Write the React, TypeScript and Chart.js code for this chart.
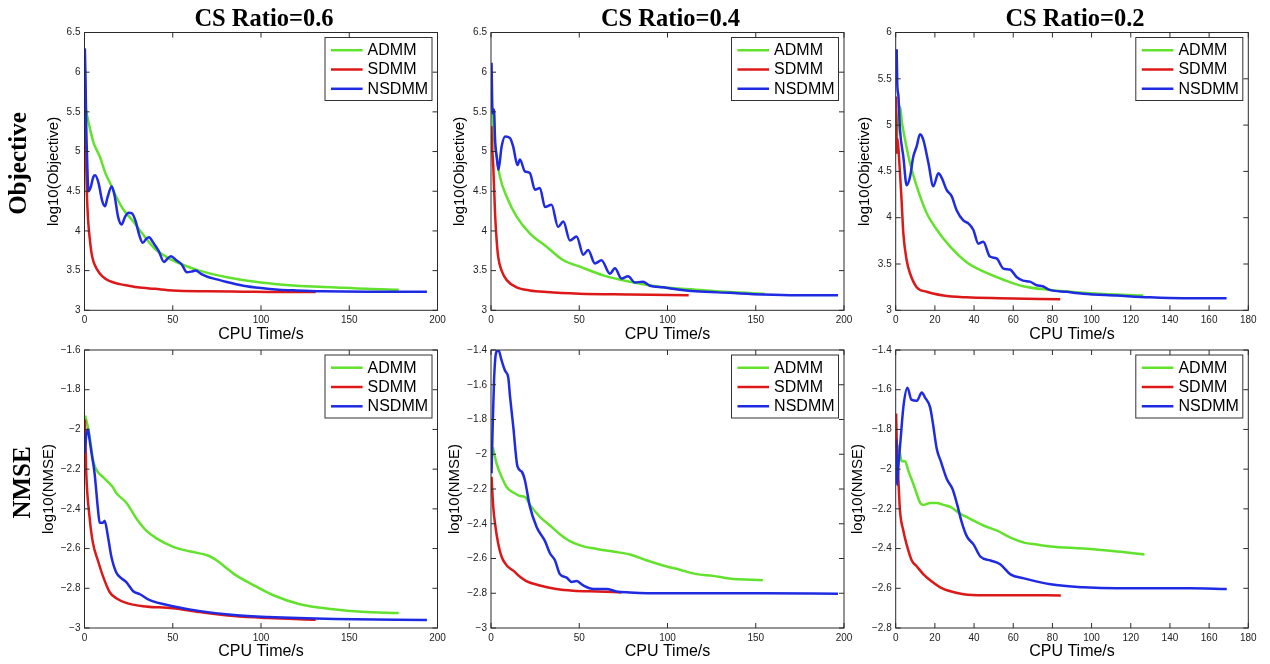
import { useEffect, useRef } from 'react';
import { Chart, registerables } from 'chart.js';

Chart.register(...registerables);

const ratios = ['0.6', '0.4', '0.2'];
const methods = ['ADMM', 'SDMM', 'NSDMM'];
const methodColors = ['#62e22c', '#dc1818', '#1f2be3'];
const rowNames = ['Objective', 'NMSE'];
const yTitles = ['log10(Objective)', 'log10(NMSE)'];
const xTitle = 'CPU Time/s';

// axis ranges [min, max, step]
const xRanges = [[0, 200, 50], [0, 200, 50], [0, 180, 20]];
const yRanges = [
  [[3, 6.5, 0.5], [3, 6.5, 0.5], [3, 6, 0.5]],
  [[-3, -1.6, 0.2], [-3, -1.4, 0.2], [-2.8, -1.4, 0.2]],
];

// [CPU time (s), log10 value]
const objAdmm06 = [[0.3, 5.6], [1.5, 5.45], [3, 5.3], [5, 5.12], [8.6, 4.94], [12, 4.72], [15, 4.58], [18, 4.43], [22, 4.27], [27.6, 4.12], [33, 3.96], [40, 3.77], [46.6, 3.67], [55, 3.58], [65, 3.5], [80, 3.42], [100, 3.35], [120, 3.31], [140, 3.29], [160, 3.27], [178, 3.26]];
const objSdmm06 = [[0.2, 5.7], [0.8, 5.0], [1.3, 4.5], [2, 4.15], [3, 3.9], [4, 3.72], [5, 3.62], [7, 3.52], [10, 3.43], [14, 3.37], [20, 3.33], [25, 3.31], [30, 3.29], [40, 3.27], [50, 3.25], [70, 3.24], [90, 3.235], [110, 3.23], [131, 3.23]];
const objNsdmm06 = [[0.2, 6.3], [0.6, 5.9], [1.0, 5.3], [1.5, 4.9], [2.2, 4.5], [3.5, 4.55], [5, 4.68], [6, 4.7], [8, 4.6], [10, 4.38], [11.6, 4.31], [13, 4.42], [15.4, 4.56], [17, 4.45], [19, 4.18], [21, 4.08], [23, 4.18], [25, 4.23], [27, 4.22], [29, 4.12], [31, 3.95], [33, 3.85], [35, 3.9], [36.5, 3.92], [39, 3.85], [42, 3.75], [45, 3.61], [47, 3.65], [49, 3.68], [52, 3.63], [55, 3.58], [58, 3.48], [61, 3.49], [63, 3.5], [66, 3.46], [70, 3.42], [75, 3.39], [80, 3.36], [90, 3.31], [100, 3.28], [110, 3.26], [120, 3.25], [135, 3.24], [160, 3.235], [194, 3.235]];

const objAdmm04 = [[0.3, 5.65], [1.3, 5.27], [2.3, 5.06], [3.2, 4.94], [5.1, 4.68], [8.9, 4.43], [14.5, 4.18], [22, 3.97], [31.5, 3.8], [41, 3.63], [50.4, 3.55], [63.6, 3.44], [78.7, 3.36], [97.5, 3.29], [116, 3.26], [135, 3.23], [155, 3.21]];
const objSdmm04 = [[0.2, 5.32], [0.8, 5.0], [1.3, 4.81], [2.3, 4.22], [3.2, 3.88], [4.1, 3.67], [6, 3.5], [8.9, 3.38], [14.5, 3.29], [22, 3.25], [31.5, 3.23], [50, 3.21], [78.7, 3.2], [112, 3.19]];
const objNsdmm04 = [[0.3, 6.12], [0.9, 5.48], [1.7, 5.53], [2.3, 5.15], [3.2, 4.94], [4.2, 4.77], [6, 5.06], [8, 5.19], [10.8, 5.17], [12.6, 5.06], [15, 4.83], [16.4, 4.9], [19.2, 4.75], [22, 4.73], [24.9, 4.52], [27.7, 4.54], [30.6, 4.3], [34.3, 4.33], [38, 4.05], [41, 4.12], [44.7, 3.88], [48.5, 3.93], [52.3, 3.7], [55, 3.76], [58.9, 3.59], [62.6, 3.63], [67.4, 3.46], [70.2, 3.53], [74, 3.4], [77.7, 3.43], [81.5, 3.35], [86, 3.36], [90, 3.31], [97.5, 3.29], [107, 3.26], [116, 3.24], [135, 3.22], [154, 3.2], [173, 3.19], [196.6, 3.19]];

const objAdmm02 = [[0.5, 4.8], [1.2, 5.05], [2.2, 5.2], [3.2, 5.03], [4.8, 4.84], [7.3, 4.59], [10.7, 4.34], [15.8, 4.05], [21, 3.87], [27.7, 3.69], [36.2, 3.52], [44.7, 3.42], [55, 3.33], [65, 3.26], [78.7, 3.22], [95.7, 3.19], [112.8, 3.17], [126.4, 3.16]];
const objSdmm02 = [[0.2, 5.31], [0.5, 4.7], [1, 4.85], [1.6, 4.68], [2.2, 4.48], [3, 4.19], [3.9, 3.83], [5.6, 3.54], [7.3, 3.4], [10.7, 3.25], [15.8, 3.2], [24.3, 3.16], [36, 3.14], [53, 3.13], [84, 3.12]];
const objNsdmm02 = [[0.5, 5.82], [0.8, 5.45], [1.4, 5.31], [2.2, 4.95], [3.9, 4.66], [5.6, 4.35], [7.3, 4.44], [9, 4.66], [10.7, 4.77], [12.4, 4.9], [14.1, 4.84], [16.7, 4.59], [19.2, 4.34], [21.8, 4.48], [23.5, 4.43], [26, 4.3], [28.6, 4.23], [31.1, 4.08], [34.5, 3.97], [37, 3.94], [39.6, 3.87], [42.2, 3.72], [44.7, 3.74], [48.1, 3.58], [51.5, 3.56], [55, 3.45], [58.3, 3.44], [61.7, 3.36], [65, 3.32], [68.5, 3.31], [72, 3.27], [75, 3.26], [78.7, 3.22], [87.2, 3.2], [95.7, 3.18], [112.8, 3.16], [129.8, 3.14], [146.8, 3.13], [168.9, 3.13]];

const nmseAdmm06 = [[0.3, -1.93], [2, -1.99], [3.5, -2.07], [4.75, -2.15], [6.5, -2.2], [10.5, -2.24], [14, -2.27], [16, -2.29], [18, -2.32], [23.8, -2.37], [29.5, -2.45], [35, -2.51], [41, -2.55], [50, -2.59], [60, -2.615], [70, -2.635], [75, -2.66], [80, -2.695], [85, -2.73], [96, -2.785], [107, -2.835], [122, -2.88], [141, -2.905], [157, -2.918], [178, -2.925]];
const nmseSdmm06 = [[0.2, -1.95], [1, -2.22], [2.85, -2.44], [4.75, -2.57], [7.6, -2.66], [10.5, -2.74], [14.3, -2.82], [18, -2.85], [24, -2.875], [33, -2.89], [50, -2.9], [65.6, -2.92], [84.6, -2.94], [104, -2.95], [131, -2.958]];
const nmseNsdmm06 = [[0.2, -2.12], [1, -2.03], [2, -2.0], [2.85, -2.05], [4, -2.12], [5.7, -2.22], [7.6, -2.4], [8.6, -2.47], [10.5, -2.47], [11.4, -2.46], [13.3, -2.54], [15.2, -2.64], [18, -2.72], [21, -2.75], [23.8, -2.77], [27.6, -2.815], [31.4, -2.83], [37, -2.86], [50, -2.89], [65.6, -2.915], [84.6, -2.935], [104, -2.945], [142, -2.955], [194, -2.96]];

const nmseAdmm04 = [[1, -1.96], [3.2, -2.055], [6, -2.13], [8.9, -2.19], [12.6, -2.22], [16.4, -2.24], [19.2, -2.245], [22, -2.29], [27.7, -2.36], [33.4, -2.41], [39, -2.46], [44.7, -2.5], [52.3, -2.53], [60, -2.545], [69, -2.56], [78.7, -2.577], [88, -2.61], [97.5, -2.64], [107, -2.665], [116.4, -2.69], [125.8, -2.7], [135, -2.715], [154, -2.725]];
const nmseSdmm04 = [[0.3, -2.13], [1.3, -2.305], [2.3, -2.4], [4.1, -2.515], [6, -2.59], [8.9, -2.64], [12.6, -2.67], [16.4, -2.705], [20, -2.73], [27.7, -2.755], [37, -2.775], [46.6, -2.785], [60, -2.79], [74, -2.795]];
const nmseNsdmm04 = [[0.3, -2.11], [0.9, -1.86], [1.7, -1.58], [2.8, -1.42], [4.2, -1.4], [6, -1.46], [8, -1.52], [9.8, -1.56], [10.8, -1.67], [12.6, -1.84], [15, -2.07], [17.4, -2.1], [19.2, -2.15], [22, -2.3], [25.9, -2.42], [30.6, -2.5], [33.4, -2.57], [36.2, -2.61], [39, -2.69], [42.8, -2.71], [45.7, -2.735], [48.5, -2.73], [52.3, -2.755], [58, -2.775], [65.5, -2.775], [71, -2.79], [78.7, -2.795], [97.5, -2.8], [154, -2.8], [196.6, -2.803]];

const nmseAdmm02 = [[0.5, -1.87], [2.2, -1.92], [3, -1.96], [4.8, -1.96], [6.5, -2.01], [9, -2.075], [10.8, -2.125], [12.5, -2.17], [14.2, -2.18], [17.6, -2.17], [21, -2.17], [24.4, -2.18], [27.9, -2.19], [33, -2.225], [38, -2.25], [45, -2.285], [51.8, -2.31], [58.6, -2.345], [65.5, -2.37], [72, -2.38], [79, -2.39], [96, -2.4], [113, -2.415], [127, -2.43]];
const nmseSdmm02 = [[0.2, -1.72], [0.6, -1.89], [1.4, -2.06], [2.2, -2.21], [3.9, -2.31], [5.6, -2.38], [8.2, -2.46], [10.8, -2.49], [14.2, -2.53], [17.6, -2.56], [22.7, -2.595], [27.9, -2.615], [34.7, -2.63], [45, -2.635], [62, -2.635], [84.3, -2.636]];
const nmseNsdmm02 = [[0.2, -1.85], [0.8, -2.08], [1.5, -1.97], [2.5, -1.85], [4, -1.68], [6, -1.59], [8, -1.65], [10.8, -1.656], [13.3, -1.614], [15, -1.64], [17.6, -1.69], [19, -1.77], [21, -1.9], [23, -1.96], [26.1, -2.05], [29, -2.1], [31.3, -2.175], [33.5, -2.26], [36.4, -2.34], [39.8, -2.38], [43.2, -2.44], [48.4, -2.46], [53.5, -2.48], [58.6, -2.53], [65.5, -2.55], [79, -2.58], [96, -2.595], [113, -2.6], [150, -2.6], [169, -2.603]];

const panelSeries = [
  [[objAdmm06, objSdmm06, objNsdmm06], [objAdmm04, objSdmm04, objNsdmm04], [objAdmm02, objSdmm02, objNsdmm02]],
  [[nmseAdmm06, nmseSdmm06, nmseNsdmm06], [nmseAdmm04, nmseSdmm04, nmseNsdmm04], [nmseAdmm02, nmseSdmm02, nmseNsdmm02]],
];

// page layout (px)
const colX0 = [0, 435, 840];
const colW = [460, 435, 430];
const plotL = [84.5, 491, 895.7];
const plotR = [437.5, 844, 1248.3];
const rowY0 = [0, 340];
const rowH = [345, 324];
const plotT = [32.5, 350];
const plotB = [310.3, 628];
const yTitleX = [[53.5, 460, 865], [48.5, 455, 858]];
const xTitleY = [334.5, 651.5];
const rowLabelX = [25.5, 30];
const rowLabelY = [163.5, 482.5];

const fmt = (v: number) => String(Math.round(v * 10) / 10).replace('-', '\u2212');

const framePlugin = {
  id: 'frame',
  afterDraw(chart: any, _args: any, opts: any) {
    const { ctx, chartArea: a, scales } = chart;
    ctx.save();
    ctx.strokeStyle = '#2a2a2a';
    ctx.lineWidth = 1;
    ctx.strokeRect(a.left, a.top, a.width, a.height);
    ctx.beginPath();
    scales.x.ticks.forEach((t: any) => {
      const px = scales.x.getPixelForValue(t.value);
      ctx.moveTo(px, a.bottom); ctx.lineTo(px, a.bottom - 5);
      ctx.moveTo(px, a.top); ctx.lineTo(px, a.top + 5);
    });
    scales.y.ticks.forEach((t: any) => {
      const py = scales.y.getPixelForValue(t.value);
      ctx.moveTo(a.left, py); ctx.lineTo(a.left + 5, py);
      ctx.moveTo(a.right, py); ctx.lineTo(a.right - 5, py);
    });
    ctx.stroke();

    // legend box
    const bw = 107, bh = 63;
    const bx = a.right - 5.5 - bw;
    const by = a.top + 5;
    ctx.fillStyle = '#fff';
    ctx.fillRect(bx, by, bw, bh);
    ctx.strokeStyle = '#333';
    ctx.strokeRect(bx, by, bw, bh);
    ctx.font = '16px "Liberation Sans", Arial, sans-serif';
    ctx.textAlign = 'left';
    ctx.textBaseline = 'middle';
    chart.data.datasets.forEach((ds: any, i: number) => {
      const ly = by + 12.7 + i * 19.3;
      ctx.strokeStyle = ds.borderColor;
      ctx.lineWidth = 2.5;
      ctx.beginPath();
      ctx.moveTo(bx + 6, ly); ctx.lineTo(bx + 37.6, ly);
      ctx.stroke();
      ctx.fillStyle = '#000';
      ctx.fillText(ds.label, bx + 42.6, ly + 0.5);
    });

    ctx.fillStyle = '#000';
    if (opts.title) {
      ctx.font = 'bold 24.5px "Liberation Serif", "Times New Roman", serif';
      ctx.textAlign = 'center';
      ctx.textBaseline = 'alphabetic';
      ctx.fillText(opts.title, (a.left + a.right) / 2 + 3, 26);
    }
    if (opts.rowLabel) {
      ctx.font = 'bold 25px "Liberation Serif", "Times New Roman", serif';
      ctx.textAlign = 'center';
      ctx.textBaseline = 'alphabetic';
      ctx.translate(opts.rowLabelX, opts.rowLabelY);
      ctx.rotate(-Math.PI / 2);
      ctx.fillText(opts.rowLabel, 0, 0);
    }
    ctx.restore();
  },
};

function Panel({ row, col }: { row: number; col: number }) {
  const canvasRef = useRef<HTMLCanvasElement | null>(null);

  useEffect(() => {
    const ctx = canvasRef.current?.getContext('2d');
    if (!ctx) return;

    const [xMin, xMax, xStep] = xRanges[col];
    const [yMin, yMax, yStep] = yRanges[row][col];
    const yW = plotL[col] - colX0[col];
    const xH = rowY0[row] + rowH[row] - plotB[row];
    const yTitlePad = yTitleX[row][col] - colX0[col] - 9;
    const xTitlePad = rowY0[row] + rowH[row] - xTitleY[row] - 9.6;

    const chart = new Chart(ctx, {
      type: 'line',
      data: {
        datasets: panelSeries[row][col].map((pts, i) => ({
          label: methods[i],
          data: pts.map(([x, y]) => ({ x, y })),
          borderColor: methodColors[i],
          borderWidth: 2.5,
          pointRadius: 0,
          cubicInterpolationMode: 'monotone',
          order: 3 - i,
        })),
      },
      options: {
        responsive: false,
        animation: false,
        layout: {
          padding: {
            left: 0,
            top: plotT[row] - rowY0[row],
            right: colX0[col] + colW[col] - plotR[col],
            bottom: 0,
          },
        },
        plugins: {
          legend: { display: false },
          tooltip: { enabled: false },
          frame: {
            title: row === 0 ? `CS Ratio=${ratios[col]}` : '',
            rowLabel: col === 0 ? rowNames[row] : '',
            rowLabelX: rowLabelX[row],
            rowLabelY: rowLabelY[row] - rowY0[row],
          },
        } as any,
        scales: {
          x: {
            type: 'linear',
            min: xMin,
            max: xMax,
            grid: { display: false, drawTicks: false },
            border: { display: false },
            ticks: {
              stepSize: xStep,
              autoSkip: false,
              maxRotation: 0,
              padding: 4,
              color: '#222',
              font: { size: 10 },
              callback: (v: any) => fmt(Number(v)),
            },
            title: {
              display: true,
              text: xTitle,
              color: '#000',
              font: { size: 16 },
              padding: { top: 0, bottom: xTitlePad },
            },
            afterFit: (s: any) => { s.height = xH; },
          },
          y: {
            type: 'linear',
            min: yMin,
            max: yMax,
            grid: { display: false, drawTicks: false },
            border: { display: false },
            ticks: {
              stepSize: yStep,
              autoSkip: false,
              padding: 4,
              color: '#222',
              font: { size: 10 },
              callback: (v: any) => fmt(Number(v)),
            },
            title: {
              display: true,
              text: yTitles[row],
              color: '#000',
              font: { size: 15 },
              padding: { top: yTitlePad, bottom: 0 },
            },
            afterFit: (s: any) => { s.width = yW; },
          },
        },
      },
      plugins: [framePlugin],
    } as any);

    return () => chart.destroy();
  }, [row, col]);

  return (
    <canvas
      ref={canvasRef}
      width={colW[col]}
      height={rowH[row]}
      style={{
        position: 'absolute',
        left: colX0[col],
        top: rowY0[row],
        width: colW[col],
        height: rowH[row],
      }}
    />
  );
}

export default function App() {
  Chart.defaults.font.family = '"Liberation Sans", Arial, sans-serif';
  return (
    <div style={{ position: 'fixed', left: 0, top: 0, width: 1270, height: 664, background: '#fff' }}>
      {[0, 1].map(r => [0, 1, 2].map(c => <Panel key={`${r}-${c}`} row={r} col={c} />))}
    </div>
  );
}
